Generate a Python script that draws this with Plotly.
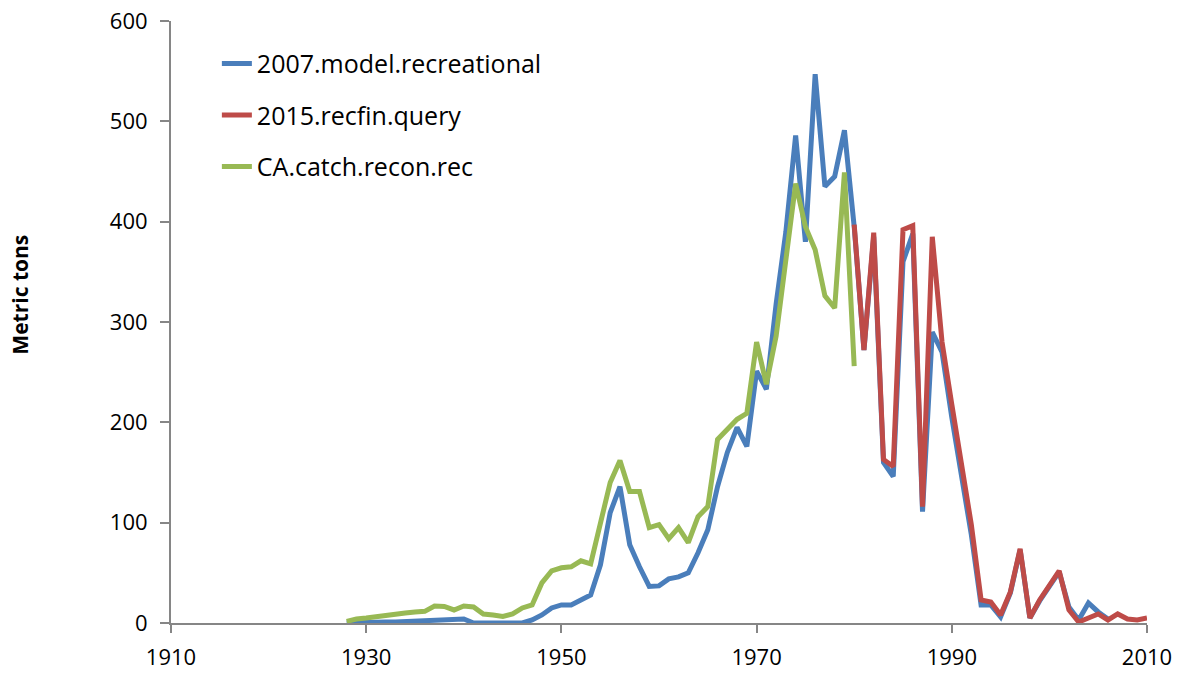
import plotly.graph_objects as go

# 2007.model.recreational
years_model = list(range(1928, 2007))
tons_model = [0, 0.5, 1, 1, 1, 1, 1.5, 2, 2.5, 3, 3, 3, 4, 0, 0, 0, 0, 0, 0, 3,
              8, 15, 18, 18, 23, 28, 58, 110, 136, 78, 56, 36.5, 37, 44, 46, 50, 70, 93,
              136, 170, 195, 176, 251, 233, 318, 390, 486, 380, 547, 435, 445, 491,
              395, 272, 385, 160, 146, 360, 388, 111, 290, 270, 205, 148, 88, 18,
              18, 6, 30, 73, 5, 22, 37, 51, 16, 3, 20, 11, 4]

# 2015.recfin.query
years_recfin = list(range(1980, 2011))
tons_recfin = [397, 272, 389, 163, 156, 392, 396, 116, 385, 280, 218, 159, 98, 23,
               21, 8, 31, 74, 5, 23, 38, 52, 13, 1, 5, 9, 3, 9, 4, 3, 5]

# CA.catch.recon.rec
years_recon = list(range(1928, 1981))
tons_recon = [1.6, 4, 5, 6.5, 8, 9, 10, 11, 11.6, 17, 16.5, 13, 17, 16, 9, 8, 6.6, 9,
              15, 18, 40, 52, 55, 56, 62, 59, 100, 140, 162, 131, 131, 95, 98, 84, 95,
              80, 106, 116, 183, 193, 203, 209, 280, 238, 286, 362, 438, 395, 372, 326,
              314, 449, 256]

series = [
    ("2007.model.recreational", years_model, tons_model, "#4A7EBB"),
    ("2015.recfin.query", years_recfin, tons_recfin, "#BE4B48"),
    ("CA.catch.recon.rec", years_recon, tons_recon, "#98B954"),
]

fig = go.Figure()
for name, xs, ys, color in series:
    fig.add_trace(go.Scatter(x=xs, y=ys, mode="lines", name=name, legendgroup=name,
                             line=dict(color=color, width=5)))

axis_color = "#868686"
fig.update_layout(
    width=1185, height=675,
    margin=dict(l=171, r=38, t=21, b=52),
    plot_bgcolor="white", paper_bgcolor="white",
    font=dict(family="Open Sans", size=22, color="black"),
    showlegend=True,
    legend=dict(x=0.047, y=0.967, xanchor="left", yanchor="top",
                traceorder="grouped", tracegroupgap=16,
                bgcolor="rgba(0,0,0,0)", font=dict(size=25)),
    xaxis=dict(range=[1910, 2010], dtick=20, tick0=1910, showgrid=False, zeroline=False,
               showline=True, linecolor=axis_color, linewidth=2, automargin=False,
               ticks="outside", ticklen=8, tickcolor=axis_color, tickwidth=2,
               ticklabelstandoff=6),
    yaxis=dict(range=[0, 600], dtick=100, showgrid=False, zeroline=False,
               showline=True, linecolor=axis_color, linewidth=2, automargin=False,
               ticks="outside", ticklen=9, tickcolor=axis_color, tickwidth=2,
               ticklabelstandoff=8),
    annotations=[dict(text="<b>Metric tons</b>", textangle=-90, xref="paper", yref="paper",
                      x=-0.155, y=0.545, xanchor="center", yanchor="middle",
                      showarrow=False, font=dict(size=21))],
)

# drop the page's default 8px body margin so the figure fills the window
fig.write_html("out.html", config={"displayModeBar": False},
               post_script="document.body.style.margin='0px';")
